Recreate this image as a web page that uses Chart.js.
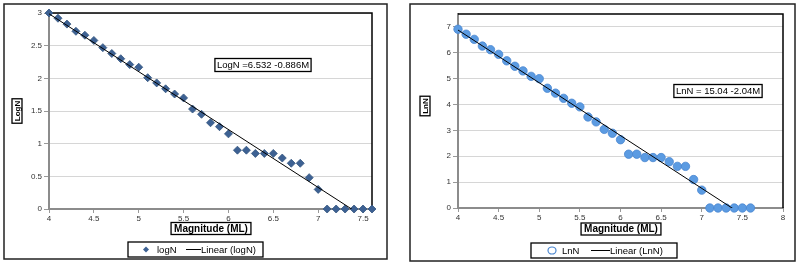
<!DOCTYPE html>
<html>
<head>
<meta charset="utf-8">
<script src="https://cdn.jsdelivr.net/npm/chart.js@4.4.0/dist/chart.umd.min.js"></script>
<style>
  html, body { margin: 0; padding: 0; background: #fff; }
  #wrap { position: relative; width: 798px; height: 265px; }
  #left { position: absolute; left: 0; top: 0; }
  #right { position: absolute; left: 400px; top: 0; }
</style>
</head>
<body>
<div id="wrap">
  <canvas id="left" width="400" height="265"></canvas>
  <canvas id="right" width="398" height="265"></canvas>
</div>
<script>
// magnitude classes (ML)
const magnitudes = [4.0, 4.1, 4.2, 4.3, 4.4, 4.5, 4.6, 4.7, 4.8, 4.9,
                    5.0, 5.1, 5.2, 5.3, 5.4, 5.5, 5.6, 5.7, 5.8, 5.9,
                    6.0, 6.1, 6.2, 6.3, 6.4, 6.5, 6.6, 6.7, 6.8, 6.9,
                    7.0, 7.1, 7.2, 7.3, 7.4, 7.5, 7.6];

const logN = [3.00, 2.92, 2.83, 2.72, 2.66, 2.58, 2.47, 2.38, 2.30, 2.21,
              2.17, 2.01, 1.93, 1.84, 1.76, 1.70, 1.53, 1.45, 1.32, 1.26,
              1.15, 0.90, 0.90, 0.85, 0.85, 0.85, 0.78, 0.70, 0.70, 0.48,
              0.30, 0, 0, 0, 0, 0, 0];

const lnN = [6.91, 6.72, 6.52, 6.26, 6.12, 5.94, 5.69, 5.48, 5.30, 5.09,
             5.00, 4.63, 4.44, 4.24, 4.05, 3.91, 3.52, 3.33, 3.04, 2.89,
             2.64, 2.08, 2.08, 1.95, 1.95, 1.95, 1.79, 1.61, 1.61, 1.10,
             0.69, 0, 0, 0, 0, 0, 0];

// fitted lines: y = a + b*M
const logFit = [6.532, -0.886];
const lnFit = [15.04, -2.04];

const xTicksLeft = [4, 4.5, 5, 5.5, 6, 6.5, 7, 7.5];
const xTicksRight = [4, 4.5, 5, 5.5, 6, 6.5, 7, 7.5, 8];
const yTicksLeft = [0, 0.5, 1, 1.5, 2, 2.5, 3];
const yTicksRight = [0, 1, 2, 3, 4, 5, 6, 7];

const FONT = "'Liberation Sans', Arial, sans-serif";

function pts(ys) {
    return magnitudes.map((m, i) => ({ x: m, y: ys[i] }));
}

function fitLine(fit) {
    const m0 = magnitudes[0], m1 = magnitudes[magnitudes.length - 1];
    return [{ x: m0, y: fit[0] + fit[1] * m0 }, { x: m1, y: fit[0] + fit[1] * m1 }];
}

function boxText(ctx, text, cx, cy, font, padX, h, rotate) {
    ctx.save();
    ctx.translate(cx, cy);
    if (rotate) ctx.rotate(-Math.PI / 2);
    ctx.font = font;
    const w = ctx.measureText(text).width + padX * 2;
    ctx.fillStyle = '#fff';
    ctx.fillRect(-w / 2, -h / 2, w, h);
    ctx.strokeStyle = '#000';
    ctx.lineWidth = 1.3;
    ctx.strokeRect(-w / 2, -h / 2, w, h);
    ctx.fillStyle = '#000';
    ctx.textAlign = 'center';
    ctx.textBaseline = 'middle';
    ctx.fillText(text, 0, 0.5);
    ctx.restore();
}

// frame, boxed titles, equation and legend
const decor = {
    id: 'decor',
    beforeDatasetsDraw(chart) {
        // black top / right frame of plot
        const ctx = chart.ctx;
        const a = chart.chartArea;
        ctx.save();
        ctx.strokeStyle = '#000';
        ctx.lineWidth = 1.5;
        ctx.beginPath();
        ctx.moveTo(a.left, a.top);
        ctx.lineTo(a.right, a.top);
        ctx.lineTo(a.right, a.bottom);
        ctx.stroke();
        ctx.restore();
    },
    afterDraw(chart, args, o) {
        const ctx = chart.ctx;
        ctx.save();
        // outer border
        ctx.strokeStyle = '#222';
        ctx.lineWidth = 1.5;
        ctx.strokeRect(o.outer[0], o.outer[1], o.outer[2], o.outer[3]);
        ctx.restore();

        boxText(ctx, 'Magnitude (ML)', (o.xTitle[0]), o.xTitle[1], 'bold 10px ' + FONT, 3, 12, false);
        boxText(ctx, o.yTitle, o.yPos[0], o.yPos[1], 'bold 8px ' + FONT, 2, 10, true);
        boxText(ctx, o.eq, o.eqPos[0], o.eqPos[1], '9.5px ' + FONT, 2, 13, false);

        // legend
        const L = o.legend;
        ctx.save();
        ctx.strokeStyle = '#000';
        ctx.lineWidth = 1.3;
        ctx.strokeRect(L.box[0], L.box[1], L.box[2], L.box[3]);
        const cy = L.box[1] + L.box[3] / 2;
        ctx.font = '9.5px ' + FONT;
        ctx.textBaseline = 'middle';
        if (L.marker === 'diamond') {
            ctx.fillStyle = '#3D6193';
            ctx.beginPath();
            ctx.moveTo(L.mx, cy - 3); ctx.lineTo(L.mx + 3, cy);
            ctx.lineTo(L.mx, cy + 3); ctx.lineTo(L.mx - 3, cy);
            ctx.closePath(); ctx.fill();
        } else {
            ctx.strokeStyle = '#4A86D0';
            ctx.lineWidth = 1.2;
            ctx.beginPath();
            ctx.ellipse(L.mx, cy, 4, 3.5, 0, 0, Math.PI * 2);
            ctx.stroke();
        }
        ctx.fillStyle = '#000';
        ctx.fillText(L.name, L.tx, cy + 0.5);
        ctx.strokeStyle = '#000';
        ctx.lineWidth = 1;
        ctx.beginPath();
        ctx.moveTo(L.lx[0], cy); ctx.lineTo(L.lx[1], cy);
        ctx.stroke();
        ctx.fillText(L.lin, L.lx[1], cy + 0.5);
        ctx.restore();
    }
};

function makeChart(id, cfg) {
    return new Chart(document.getElementById(id), {
        type: 'scatter',
        data: {
            datasets: [{
                label: cfg.linLabel,
                data: fitLine(cfg.fit),
                showLine: true,
                borderColor: '#000',
                borderWidth: 1,
                pointRadius: 0,
                order: 0
            }, {
                label: cfg.name,
                data: pts(cfg.ys),
                pointStyle: cfg.pointStyle,
                pointRadius: cfg.radius,
                backgroundColor: cfg.color,
                borderColor: cfg.edge,
                borderWidth: 0.8,
                clip: false,
                order: 1
            }]
        },
        options: {
            responsive: false,
            animation: false,
            events: [],
            layout: { padding: cfg.padding },
            plugins: {
                legend: { display: false },
                tooltip: { enabled: false },
                decor: cfg.decor
            },
            scales: {
                x: {
                    type: 'linear',
                    min: cfg.xMin, max: cfg.xMax,
                    afterBuildTicks: s => { s.ticks = cfg.xTicks.map(v => ({ value: v })); },
                    afterFit: s => { s.height = cfg.xH; },
                    grid: { drawOnChartArea: false, drawTicks: true, tickLength: 4, tickColor: '#999' },
                    border: { color: '#8c8c8c', width: 2 },
                    ticks: { font: { family: FONT, size: 8 }, color: '#333', padding: 1, maxRotation: 0,
                             callback: v => String(v) }
                },
                y: {
                    type: 'linear',
                    min: 0, max: cfg.yMax,
                    afterBuildTicks: s => { s.ticks = cfg.yTicks.map(v => ({ value: v })); },
                    afterFit: s => { s.width = cfg.yW; },
                    grid: { color: '#d6d6d6', lineWidth: 1, tickLength: 5, tickColor: '#999' },
                    border: { color: '#8c8c8c', width: 2 },
                    ticks: { font: { family: FONT, size: 8 }, color: '#333', padding: 2,
                             callback: v => String(v) }
                }
            }
        },
        plugins: [decor]
    });
}

document.addEventListener('DOMContentLoaded', () => {
    makeChart('left', {
        name: 'logN', linLabel: 'Linear (logN)', ys: logN, fit: logFit,
        pointStyle: 'rectRot', radius: 4, color: '#3D6193', edge: '#34557f',
        xMin: 4, xMax: 7.6, yMax: 3, xTicks: xTicksLeft, yTicks: yTicksLeft,
        padding: { top: 13, right: 28, bottom: 0, left: 0 }, xH: 56, yW: 49,
        decor: {
            outer: [4, 4, 383, 255],
            xTitle: [211, 228.5],
            yTitle: 'LogN', yPos: [17, 111],
            eq: 'LogN =6.532 -0.886M', eqPos: [263, 65],
            legend: { box: [128, 242, 135, 15], marker: 'diamond', mx: 146, name: 'logN', tx: 157, lin: 'Linear (logN)', lx: [186, 201] }
        }
    });

    makeChart('right', {
        name: 'LnN', linLabel: 'Linear (LnN)', ys: lnN, fit: lnFit,
        pointStyle: 'circle', radius: 4.2, color: '#5B9BE2', edge: '#4A86D0',
        xMin: 4, xMax: 8, yMax: 7.5, xTicks: xTicksRight, yTicks: yTicksRight,
        padding: { top: 14, right: 15, bottom: 0, left: 0 }, xH: 57, yW: 58,
        decor: {
            outer: [10, 4, 385, 257],
            xTitle: [221, 229],
            yTitle: 'LnN', yPos: [25, 106],
            eq: 'LnN = 15.04 -2.04M', eqPos: [318, 91],
            legend: { box: [131, 243, 146, 15], marker: 'circle', mx: 152, name: 'LnN', tx: 162, lin: 'Linear (LnN)', lx: [191, 210] }
        }
    });
});
</script>
</body>
</html>
